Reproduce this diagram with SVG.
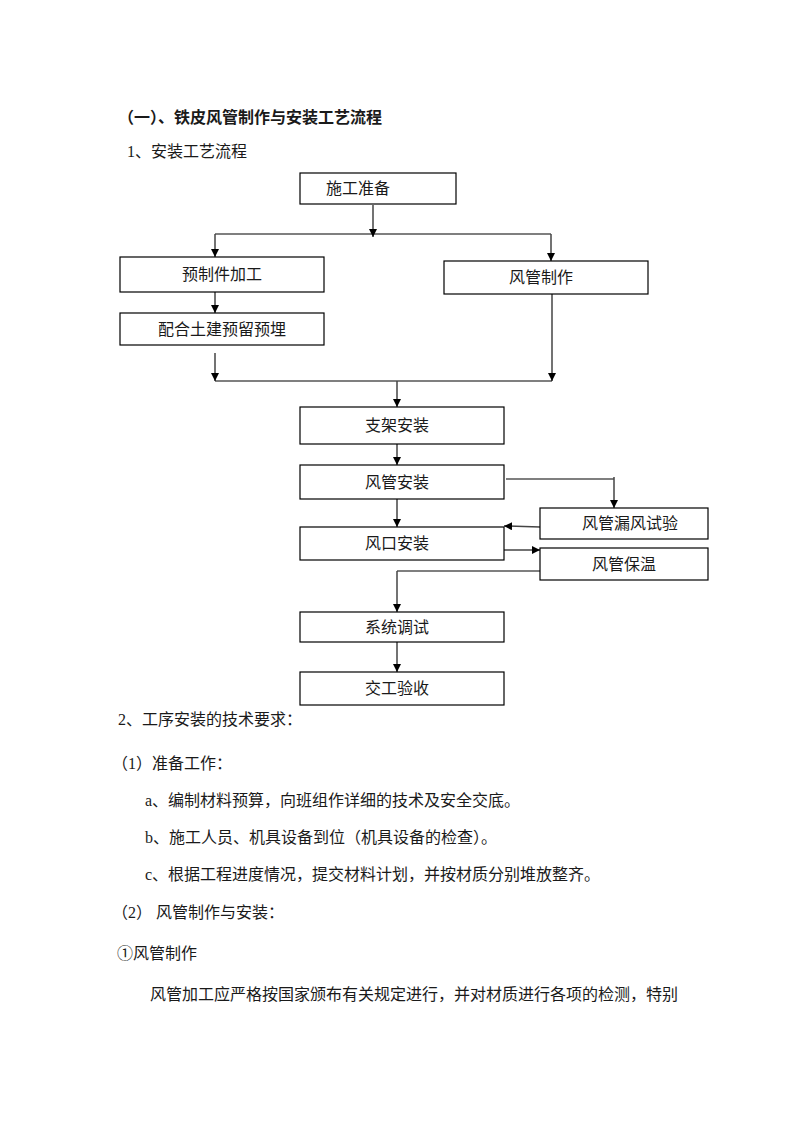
<svg xmlns="http://www.w3.org/2000/svg" width="793" height="1122" viewBox="0 0 793 1122">
<defs>
<marker id="ah" viewBox="0 0 8 8" refX="8" refY="4" markerWidth="8" markerHeight="8" markerUnits="userSpaceOnUse" orient="auto">
<path d="M0,0 L8,4 L0,8 Z" fill="#000"/>
</marker>
<style>
.bx{fill:#fff;stroke:#000;stroke-width:1.2}
.t{font-family:"Liberation Serif","Noto Sans CJK SC",serif;font-size:16px;fill:#1a1a1a}
.bt{font-family:"Liberation Serif","Noto Sans CJK SC",serif;font-size:16px;fill:#1a1a1a;text-anchor:middle}
.ln{fill:none;stroke:#000;stroke-width:1.2}
.ar{fill:none;stroke:#444;stroke-width:1.5;marker-end:url(#ah)}
</style>
</defs>
<rect width="793" height="1122" fill="#fff"/>
<text x="118" y="123" class="t" style="font-weight:bold">（一）、铁皮风管制作与安装工艺流程</text>
<text x="127" y="157" class="t">1、安装工艺流程</text>

<g id="connectors">
<line class="ar" x1="373" y1="205" x2="373" y2="237"/>
<polyline class="ln" points="215,234 551,234"/>
<line class="ar" x1="215" y1="234" x2="215" y2="257"/>
<line class="ar" x1="551" y1="234" x2="551" y2="261"/>
<line class="ar" x1="215" y1="292" x2="215" y2="313"/>
<line class="ar" x1="215" y1="353" x2="215" y2="381"/>
<line class="ar" x1="552" y1="294" x2="552" y2="381"/>
<polyline class="ln" points="215,381 552,381"/>
<line class="ar" x1="397" y1="381" x2="397" y2="407"/>
<line class="ar" x1="397" y1="444" x2="397" y2="465"/>
<polyline class="ln" points="506,479 614,479"/>
<line class="ar" x1="614" y1="477" x2="614" y2="508"/>
<line class="ar" x1="540" y1="527" x2="504" y2="526"/>
<line class="ar" x1="397" y1="499" x2="397" y2="527"/>
<line class="ar" x1="504" y1="550" x2="540" y2="550"/>
<polyline class="ln" points="540,571 397,571"/>
<line class="ar" x1="397" y1="571" x2="397" y2="612"/>
<line class="ar" x1="397" y1="642" x2="397" y2="672"/>
</g>

<g id="n1"><rect class="bx" x="300" y="173" width="156" height="31"/><text class="bt" x="358" y="194">施工准备</text></g>
<g id="n2"><rect class="bx" x="120" y="257" width="204" height="35"/><text class="bt" x="222" y="280">预制件加工</text></g>
<g id="n3"><rect class="bx" x="120" y="313" width="204" height="32"/><text class="bt" x="222" y="335">配合土建预留预埋</text></g>
<g id="n4"><rect class="bx" x="444" y="261" width="204" height="33"/><text class="bt" x="541" y="283">风管制作</text></g>
<g id="n5"><rect class="bx" x="300" y="407" width="204" height="37"/><text class="bt" x="397" y="431">支架安装</text></g>
<g id="n6"><rect class="bx" x="300" y="465" width="204" height="34"/><text class="bt" x="397" y="488">风管安装</text></g>
<g id="n7"><rect class="bx" x="540" y="508" width="168" height="31"/><text class="bt" x="630" y="529">风管漏风试验</text></g>
<g id="n8"><rect class="bx" x="300" y="527" width="204" height="33"/><text class="bt" x="397" y="549">风口安装</text></g>
<g id="n9"><rect class="bx" x="540" y="548" width="168" height="32"/><text class="bt" x="624" y="570">风管保温</text></g>
<g id="n10"><rect class="bx" x="300" y="612" width="204" height="30"/><text class="bt" x="397" y="633">系统调试</text></g>
<g id="n11"><rect class="bx" x="300" y="672" width="204" height="33"/><text class="bt" x="397" y="694">交工验收</text></g>

<text x="118" y="725" class="t">2、工序安装的技术要求：</text>
<text x="112" y="769" class="t">（1）准备工作：</text>
<text x="145" y="806" class="t">a、编制材料预算，向班组作详细的技术及安全交底。</text>
<text x="145" y="843" class="t">b、施工人员、机具设备到位（机具设备的检查）。</text>
<text x="145" y="880" class="t">c、根据工程进度情况，提交材料计划，并按材质分别堆放整齐。</text>
<text x="112" y="918" class="t">（2） 风管制作与安装：</text>
<text x="117" y="959" class="t">①风管制作</text>
<text x="150" y="1000" class="t">风管加工应严格按国家颁布有关规定进行，并对材质进行各项的检测，特别</text>
</svg>
